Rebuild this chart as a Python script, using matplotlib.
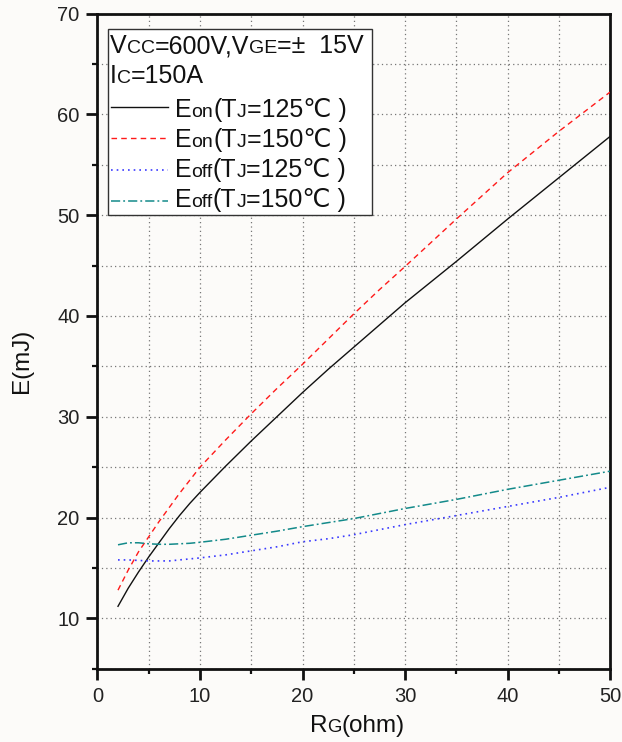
import matplotlib
matplotlib.use("Agg")
import matplotlib.pyplot as plt
from matplotlib.ticker import MultipleLocator
from matplotlib.transforms import offset_copy
from matplotlib.lines import Line2D
from matplotlib.patches import Rectangle

plt.rcParams['font.family'] = ['Liberation Sans', 'DejaVu Sans']

# ---- data ----
rg = [2, 3, 4, 5, 6, 7, 8, 9, 10, 12.5, 15, 17.5, 20, 22.5, 25, 27.5, 30, 35, 40, 45, 50]
eon_125 = [11.2, 13.0, 14.6, 16.1, 17.5, 18.9, 20.2, 21.4, 22.5, 25.1, 27.6, 30.0, 32.4,
           34.7, 36.9, 39.1, 41.3, 45.4, 49.6, 53.7, 57.8]
eon_150 = [12.8, 14.8, 16.6, 18.1, 19.6, 21.0, 22.4, 23.7, 25.0, 27.7, 30.3, 32.8, 35.2,
           37.7, 40.2, 42.6, 44.9, 49.6, 54.2, 58.3, 62.2]
eoff_125 = [15.8, 15.8, 15.75, 15.7, 15.7, 15.7, 15.8, 15.9, 16.0, 16.3, 16.7, 17.1, 17.6,
            17.9, 18.3, 18.8, 19.3, 20.2, 21.1, 22.0, 23.0]
eoff_150 = [17.3, 17.5, 17.5, 17.4, 17.35, 17.35, 17.4, 17.45, 17.55, 17.85, 18.25, 18.65, 19.1,
            19.5, 19.9, 20.4, 20.9, 21.8, 22.8, 23.7, 24.6]

x_ticks = [0, 10, 20, 30, 40, 50]
y_ticks = [10, 20, 30, 40, 50, 60, 70]

# legend text pieces: (text, small?)
cond_line1 = [("V", 0), ("CC", 1), ("=600V,V", 0), ("GE", 1), ("=\u00b1  15V", 0)]
cond_line2 = [("I", 0), ("C", 1), ("=150A", 0)]
series_labels = [
    [("E", 0), ("on", 1), ("(T", 0), ("J", 1), ("=125\u2103 )", 0)],
    [("E", 0), ("on", 1), ("(T", 0), ("J", 1), ("=150\u2103 )", 0)],
    [("E", 0), ("off", 1), ("(T", 0), ("J", 1), ("=125\u2103 )", 0)],
    [("E", 0), ("off", 1), ("(T", 0), ("J", 1), ("=150\u2103 )", 0)],
]
xlabel_pieces = [("R", 0), ("G", 1), ("(ohm)", 0)]
ylabel_text = "E(mJ)"

# ---- styles ----
styles = [
    dict(color="#111111", lw=1.0, ls="-"),
    dict(color="#ff1a1a", lw=1.0, ls=(0, (4, 3))),
    dict(color="#3a3aff", lw=1.2, ls=(0, (1, 2.4))),
    dict(color="#138a8a", lw=1.1, ls=(0, (6, 2, 1.2, 2))),
]
series = [eon_125, eon_150, eoff_125, eoff_150]

bg = "#fcfbf9"
fig = plt.figure(figsize=(6.22, 7.42), dpi=100, facecolor=bg)
W, H = 622, 742
ax = fig.add_axes([97.5 / W, (H - 668.8) / H, (610 - 97.5) / W, (668.8 - 13.5) / H])
ax.set_facecolor(bg)

for s, st in zip(series, styles):
    ax.plot(rg, s, **st, zorder=3)

ax.set_xlim(0, 50)
ax.set_ylim(5, 70)
ax.set_xticks(x_ticks)
ax.set_yticks(y_ticks)
ax.xaxis.set_minor_locator(MultipleLocator(5))
ax.yaxis.set_minor_locator(MultipleLocator(5))
ax.grid(True, which="both", color="#555555", lw=0.9, ls=(0, (1, 2.5)), alpha=0.8, zorder=0)
for sp in ax.spines.values():
    sp.set_linewidth(2.0)
    sp.set_color("#111111")
ax.tick_params(which="major", direction="out", length=8, width=2.0, labelsize=14.5,
               colors="#111111")
ax.tick_params(axis="x", which="major", pad=5)
ax.tick_params(axis="y", which="major", pad=5)
ax.tick_params(which="minor", direction="out", length=3.8, width=1.6, colors="#111111")
ax.tick_params(axis="y", which="both", right=False)
for lab in ax.get_xticklabels() + ax.get_yticklabels():
    lab.set_color("#222222")

fig.canvas.draw()
renderer = fig.canvas.get_renderer()


def rich(x, y, pieces, size, small_ratio=0.78, transform=None, ha="left", **kw):
    """Draw text pieces on one baseline, small pieces in smaller font."""
    if transform is None:
        transform = fig.transFigure
    arts = []
    dx = 0.0
    for txt, small in pieces:
        fs = size * small_ratio if small else size
        t = fig.text(x, y, txt, fontsize=fs, va="baseline", ha="left",
                     transform=offset_copy(transform, fig=fig, x=dx, y=0, units="dots"), **kw)
        w = t.get_window_extent(renderer=renderer).width
        dx += w
        arts.append(t)
    if ha == "center":
        for t in arts:
            t.set_transform(offset_copy(t.get_transform(), fig=fig, x=-dx / 2, y=0, units="dots"))
    return arts


def fx(px):
    return px / W


def fy(py):
    return (H - py) / H


# legend box
box = Rectangle((fx(108.3), fy(215)), fx(371.7) - fx(108.3), fy(29.3) - fy(215),
                transform=fig.transFigure, facecolor="#ffffff", edgecolor="#333333",
                lw=1.0, zorder=5)
fig.patches.append(box)

fs_leg = 18
rich(fx(110), fy(53.3), cond_line1, fs_leg, color="#111111", zorder=6)
rich(fx(110), fy(83.3), cond_line2, fs_leg, color="#111111", zorder=6)
base_y = [116.7, 146.9, 177.1, 207.3]
line_y = [107.3, 138.3, 170.0, 201.0]
for lab, st, by, ly in zip(series_labels, styles, base_y, line_y):
    fig.lines.append(Line2D([fx(111), fx(167.7)], [fy(ly), fy(ly)], transform=fig.transFigure,
                            zorder=6, **st))
    rich(fx(175), fy(by), lab, fs_leg, color="#111111", zorder=6)

# axis labels
rich(fx(357), fy(732), xlabel_pieces, 17.5, small_ratio=0.76, ha="center", color="#111111")
fig.text(fx(22), fy(361), ylabel_text, rotation=90, fontsize=17.5, ha="center", va="center",
         color="#111111")

fig.savefig("out.png", dpi=100, facecolor=bg)
